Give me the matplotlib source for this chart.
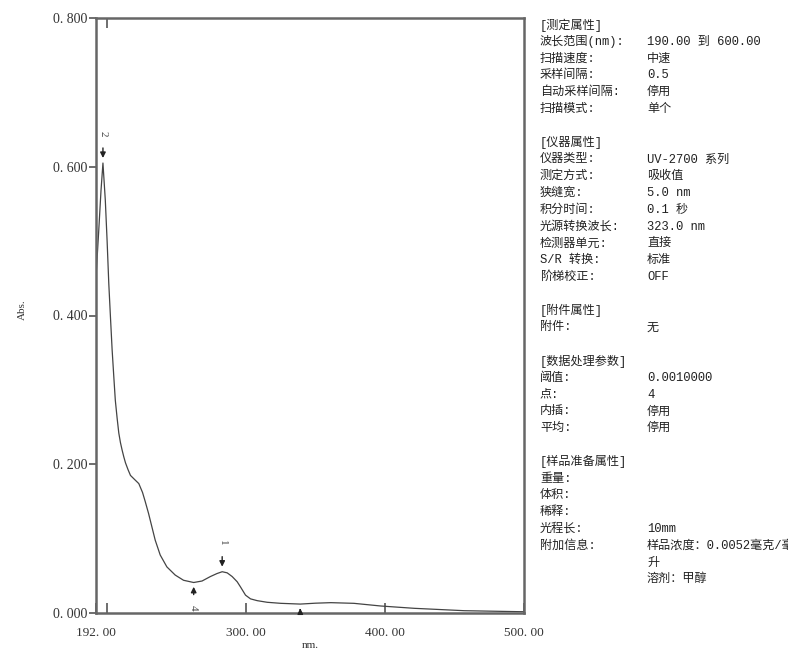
import matplotlib
matplotlib.use("Agg")
import matplotlib.pyplot as plt
from matplotlib.ticker import FixedLocator

wavelength = [192.0, 194.0, 195.6, 197.0, 198.7, 200.0, 201.2, 202.4, 203.6, 204.8, 205.9, 207.2,
              208.4, 209.6, 210.8, 212.0, 213.2, 215.0, 216.8, 219.5, 222.8, 225.5, 227.4,
              229.8, 232.2, 234.6, 238.2, 243.0, 249.0, 255.0, 262.3, 268.3, 274.3, 279.0,
              282.8, 286.4, 290.0, 293.6, 296.0, 299.6, 303.2, 308.0, 315.2, 325.0, 339.0,
              350.0, 361.0, 377.6, 397.0, 421.0, 457.0, 496.0, 500.0]
absorbance = [0.452, 0.515, 0.568, 0.605, 0.555, 0.500, 0.443, 0.398, 0.354, 0.318, 0.286, 0.262,
              0.242, 0.229, 0.219, 0.210, 0.202, 0.193, 0.185, 0.180, 0.174, 0.162, 0.150,
              0.134, 0.116, 0.098, 0.078, 0.062, 0.051, 0.044, 0.041, 0.043, 0.049, 0.053,
              0.0555, 0.054, 0.049, 0.042, 0.035, 0.024, 0.019, 0.0166, 0.0144, 0.013, 0.012,
              0.0132, 0.0139, 0.013, 0.0094, 0.0063, 0.0031, 0.0018, 0.0017]

peak_nm = [282.8, 197.0, 339.0, 262.3]
peak_abs = [0.0555, 0.605, 0.012, 0.041]
peak_dir = ['down', 'down', 'up', 'up']
peak_lbl = ['1', '2', '3', '4']

yticks = [0.0, 0.2, 0.4, 0.6, 0.8]
ytick_labels = ['0. 000', '0. 200', '0. 400', '0. 600', '0. 800']
xticks = [192, 300, 400, 500]
xtick_labels = ['192. 00', '300. 00', '400. 00', '500. 00']
xminor = [200]

info_left = ['[测定属性]', '波长范围(nm):', '扫描速度:', '采样间隔:', '自动采样间隔:', '扫描模式:', '',
             '[仪器属性]', '仪器类型:', '测定方式:', '狭缝宽:', '积分时间:', '光源转换波长:',
             '检测器单元:', 'S/R 转换:', '阶梯校正:', '',
             '[附件属性]', '附件:', '',
             '[数据处理参数]', '阈值:', '点:', '内插:', '平均:', '',
             '[样品准备属性]', '重量:', '体积:', '稀释:', '光程长:', '附加信息:', '', '']
info_right = ['', '190.00 到 600.00', '中速', '0.5', '停用', '单个', '',
              '', 'UV-2700 系列', '吸收值', '5.0 nm', '0.1 秒', '323.0 nm',
              '直接', '标准', 'OFF', '',
              '', '无', '',
              '', '0.0010000', '4', '停用', '停用', '',
              '', '', '', '', '10mm', '样品浓度：0.0052毫克/毫', '升', '溶剂：甲醇']

FAM = ['Liberation Mono', 'Noto Sans CJK SC', 'DejaVu Sans']
SERIF = ['Liberation Serif', 'Noto Sans CJK SC', 'DejaVu Serif']
plt.rcParams['font.family'] = FAM

fig = plt.figure(figsize=(7.88, 6.5), dpi=100)
ax = fig.add_axes([96/788, 37/650, (524-96)/788, (613-18)/650])

ax.plot(wavelength, absorbance, color='#444444', lw=0.9, clip_on=True)
ax.set_xlim(192, 500)
ax.set_ylim(0, 0.8)

ax.set_yticks(yticks)
ax.set_yticklabels(ytick_labels, fontsize=10, color='#333333', family=SERIF)
ax.set_xticks(xticks)
ax.set_xticklabels(xtick_labels, fontsize=9.5, color='#333333', family=SERIF)
ax.xaxis.set_minor_locator(FixedLocator(xminor))
ax.tick_params(axis='y', direction='out', length=5, width=1.2, color='#555555', pad=1)
ax.tick_params(axis='x', which='major', direction='in', length=7, width=1.2, color='#555555', pad=10)
ax.tick_params(axis='x', which='minor', direction='in', length=7, width=1.2, color='#555555',
               top=True, bottom=True)
for s in ax.spines.values():
    s.set_color('#666666')
    s.set_linewidth(1.8)

ax.set_xlabel('nm.', fontsize=8, color='#333333', family=SERIF)
ax.xaxis.set_label_coords((310-96)/428, -(641-613)/595)
ax.set_ylabel('Abs.', fontsize=8, color='#333333', family=SERIF)
ax.yaxis.set_label_coords(-(96-27)/428, (613-310)/595)

# peak markers
for x, y, d, lbl in zip(peak_nm, peak_abs, peak_dir, peak_lbl):
    if d == 'down':
        ax.annotate('', xy=(x, y + 0.003), xytext=(x, y + 0.024),
                    arrowprops=dict(arrowstyle='-|>', color='#222222', lw=1, mutation_scale=8))
        ax.text(x, y + 0.039, lbl, rotation=-90, ha='center', va='center',
                fontsize=8, color='#444444', family=SERIF)
    else:
        ax.annotate('', xy=(x, y - 0.002), xytext=(x, y - 0.020 if y > 0.02 else 0.0),
                    arrowprops=dict(arrowstyle='-|>', color='#222222', lw=1, mutation_scale=8))
        if lbl != '3':
            ax.text(x, y - 0.034, lbl, rotation=-90, ha='center', va='center',
                    fontsize=8, color='#444444', family=SERIF)

# side info panel
y0 = 25
dy = 16.8
for i, (l, r) in enumerate(zip(info_left, info_right)):
    yy = 1 - (y0 + i * dy) / 650
    if l:
        fig.text(540/788, yy, l, fontsize=8.7, va='center', ha='left', color='#222222')
    if r:
        fig.text(647/788, yy, r, fontsize=8.7, va='center', ha='left', color='#222222')

fig.savefig('out.png', dpi=100)
